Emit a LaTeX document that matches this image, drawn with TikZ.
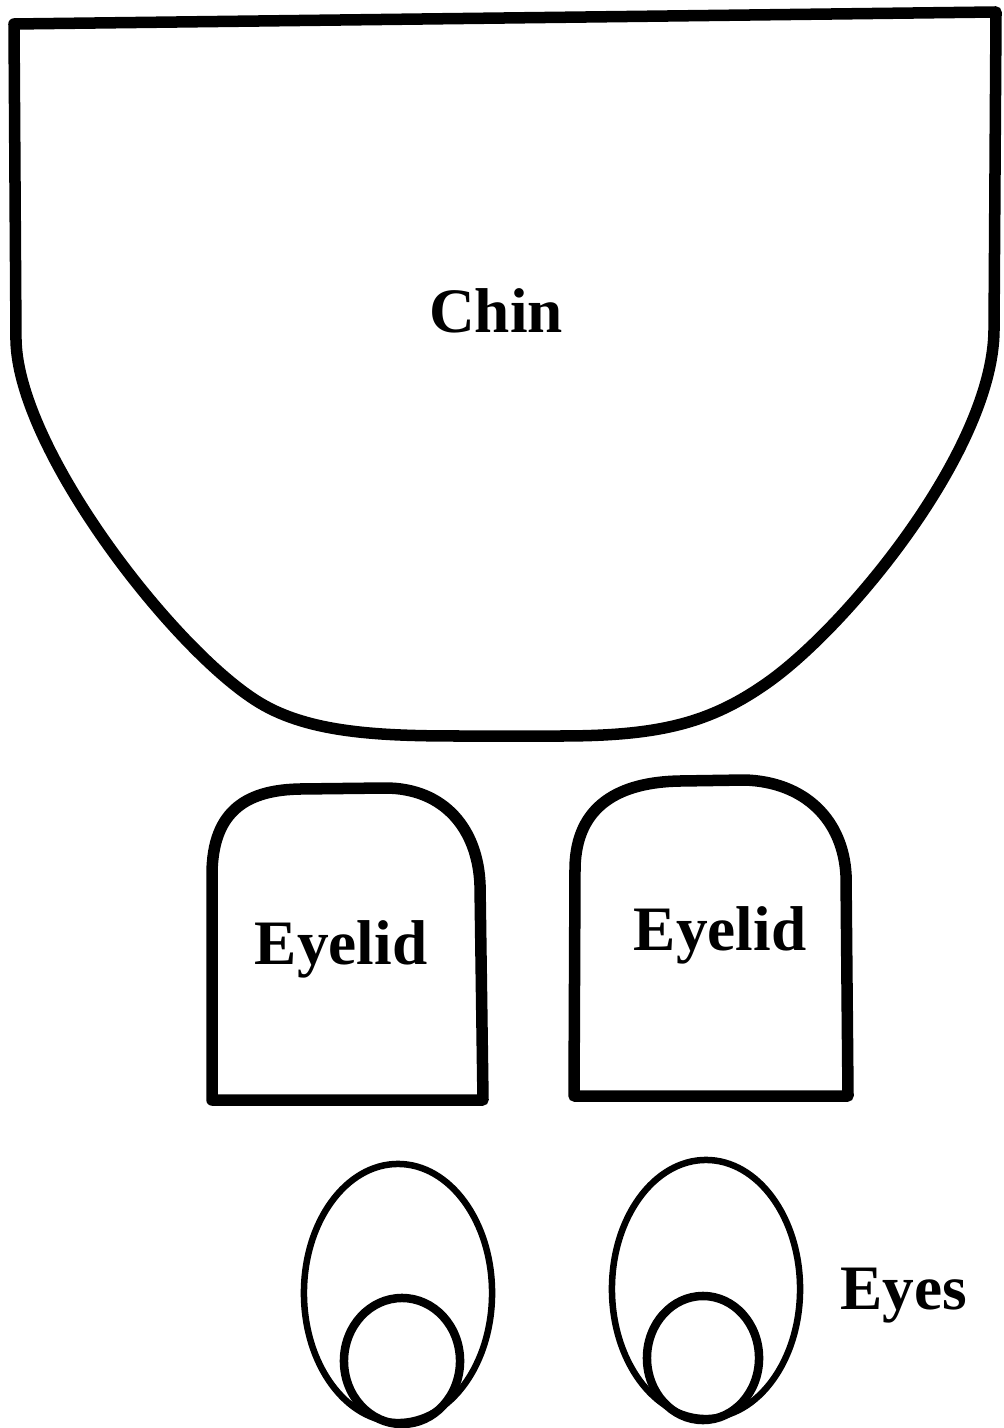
\documentclass[tikz,border=0pt]{standalone}
\usepackage{fontspec}
\setmainfont{Liberation Serif}
\begin{document}
\begin{tikzpicture}[x=0.01cm,y=-0.01cm,
  outline/.style={draw=black,line width=0.115cm,line join=round},
  lidline/.style={draw=black,line width=0.115cm,line join=round},
  eyeline/.style={draw=black,line width=0.065cm},
  pupilline/.style={draw=black,line width=0.085cm},
  lbl/.style={font=\fontsize{18}{21}\selectfont\bfseries,anchor=base,inner sep=0pt}]
\useasboundingbox (0,0) rectangle (1003,1428);
% chin
\draw[outline] (14,24) -- (996,12) -- (994,330)
  .. controls (993,450) and (847,627) .. (767,683)
  .. controls (710,723) and (660,736) .. (560,736)
  -- (460,736)
  .. controls (380,736) and (310,733) .. (260,703)
  .. controls (175,652) and (18,450) .. (16,340)
  -- cycle;
\node[lbl] (chin) at (496,333) {Chin};
% eyelids
\draw[lidline] (212,1100) -- (212,875) .. controls (212,808) and (250,790) .. (300,789)
  -- (385,788) .. controls (445,788) and (478,830) .. (480,885) -- (483,1100) -- cycle;
\draw[lidline] (574,1096) -- (575,868) .. controls (576,805) and (620,782) .. (680,781)
  -- (745,780) .. controls (805,782) and (843,820) .. (846,875) -- (848,1096) -- cycle;
\node[lbl] (lidA) at (341,964) {Eyelid};
\node[lbl] (lidB) at (720,950) {Eyelid};
% eyes
\draw[eyeline] (398,1293) ellipse [x radius=0.94cm, y radius=1.29cm];
\draw[eyeline] (706,1289) ellipse [x radius=0.94cm, y radius=1.29cm];
\draw[pupilline] (402,1361) ellipse [x radius=0.58cm, y radius=0.63cm];
\draw[pupilline] (703,1358) ellipse [x radius=0.56cm, y radius=0.62cm];
\node[lbl] (eyes) at (904,1309) {Eyes};
\end{tikzpicture}
\end{document}
